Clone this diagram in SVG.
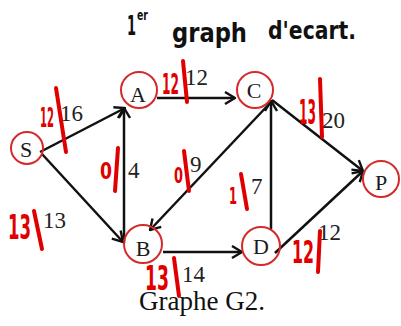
<svg xmlns="http://www.w3.org/2000/svg" width="401" height="326" viewBox="0 0 401 326">
<style>
.edge{stroke:#111;stroke-width:2.5;fill:none;marker-end:url(#arr)}
.node circle{fill:none;stroke:#d42a2a;stroke-width:2}
.node text{font-family:"Liberation Serif","Times New Roman",serif;font-size:22px;fill:#1a1a1a;text-anchor:middle}
.lbl{font-family:"Liberation Serif","Times New Roman",serif;font-size:23px;fill:#222}
.hw{font-family:"DejaVu Sans",sans-serif;font-weight:bold;fill:#111}
.red{font-family:"DejaVu Sans",sans-serif;font-weight:bold;fill:#e00000}
.stroke{stroke:#e00000;stroke-width:4;stroke-linecap:round;fill:none}
</style>
<defs>
<marker id="arr" viewBox="0 0 12 14" refX="11" refY="7" markerWidth="12" markerHeight="14" markerUnits="userSpaceOnUse" orient="auto">
<path d="M1,1 L11,7 L1,13" fill="none" stroke="#111" stroke-width="2.4" stroke-linejoin="miter"/>
</marker>
</defs>
<rect width="401" height="326" fill="#fff"/>

<g id="title">
<text class="hw" x="127" y="35" font-size="26" textLength="9" lengthAdjust="spacingAndGlyphs">1</text>
<text class="hw" x="137" y="20" font-size="14" textLength="11" lengthAdjust="spacingAndGlyphs">er</text>
<text class="hw" x="172" y="42" font-size="26" textLength="75" lengthAdjust="spacingAndGlyphs">graph</text>
<text class="hw" x="268" y="39" font-size="25" textLength="88" lengthAdjust="spacingAndGlyphs">d'ecart.</text>
</g>

<g id="connectors">
<line class="edge" x1="40" y1="152" x2="125" y2="108"/>
<line class="edge" x1="42" y1="154" x2="123" y2="242"/>
<line class="edge" x1="124" y1="243" x2="124" y2="108"/>
<line class="edge" x1="157" y1="98" x2="235" y2="98"/>
<line class="edge" x1="272" y1="101" x2="150" y2="230"/>
<line class="edge" x1="271" y1="229" x2="271" y2="101"/>
<line class="edge" x1="272" y1="100" x2="363" y2="171"/>
<line class="edge" x1="163" y1="252" x2="242" y2="252"/>
<line class="edge" x1="275" y1="253" x2="363" y2="171"/>
</g>

<g id="edge-labels">
<text class="lbl" x="60" y="121">16</text>
<text class="lbl" x="208" y="85" text-anchor="end">12</text>
<text class="lbl" x="128" y="178">4</text>
<text class="lbl" x="190" y="172">9</text>
<text class="lbl" x="322" y="128">20</text>
<text class="lbl" x="251" y="194">7</text>
<text class="lbl" x="43" y="228">13</text>
<text class="lbl" x="182" y="282">14</text>
<text class="lbl" x="318" y="240">12</text>
</g>

<g id="S" class="node"><circle cx="27" cy="148" r="16"/><text x="26" y="157">S</text></g>
<g id="A" class="node"><circle cx="139" cy="90" r="18"/><text x="138" y="102">A</text></g>
<g id="C" class="node"><circle cx="255" cy="90" r="18"/><text x="254" y="98">C</text></g>
<g id="P" class="node"><circle cx="381" cy="179" r="18"/><text x="381" y="190">P</text></g>
<g id="B" class="node"><circle cx="143" cy="244" r="19"/><text x="143" y="256">B</text></g>
<g id="D" class="node"><circle cx="261" cy="246" r="19"/><text x="261" y="254">D</text></g>

<g id="annotations">
<text class="red" x="40" y="127" font-size="26" textLength="14" lengthAdjust="spacingAndGlyphs">12</text>
<line class="stroke" x1="56" y1="88" x2="66" y2="152"/>

<text class="red" x="162" y="94" font-size="28" textLength="17" lengthAdjust="spacingAndGlyphs">12</text>
<line class="stroke" x1="183" y1="61" x2="187" y2="102"/>

<text class="red" x="100" y="179" font-size="23" textLength="12" lengthAdjust="spacingAndGlyphs">0</text>
<line class="stroke" x1="118" y1="148" x2="115" y2="191"/>

<text class="red" x="174" y="183" font-size="21" textLength="9" lengthAdjust="spacingAndGlyphs">0</text>
<line class="stroke" x1="184" y1="151" x2="189" y2="191"/>

<text class="red" x="299" y="124" font-size="34" textLength="17" lengthAdjust="spacingAndGlyphs">13</text>
<line class="stroke" x1="320" y1="79" x2="322" y2="137"/>

<text class="red" x="229" y="204" font-size="23" textLength="8" lengthAdjust="spacingAndGlyphs">1</text>
<line class="stroke" x1="241" y1="174" x2="247" y2="209"/>

<text class="red" x="8" y="239" font-size="34" textLength="23" lengthAdjust="spacingAndGlyphs">13</text>
<line class="stroke" x1="34" y1="211" x2="42" y2="249"/>

<text class="red" x="145" y="290" font-size="34" textLength="24" lengthAdjust="spacingAndGlyphs">13</text>
<line class="stroke" x1="174" y1="258" x2="179" y2="296"/>

<text class="red" x="292" y="263" font-size="32" textLength="22" lengthAdjust="spacingAndGlyphs">12</text>
<line class="stroke" x1="320" y1="231" x2="318" y2="272"/>
</g>

<text id="caption" x="202" y="310" font-family="Liberation Serif, Times New Roman, serif" font-size="27" fill="#111" text-anchor="middle">Graphe G2.</text>
</svg>
